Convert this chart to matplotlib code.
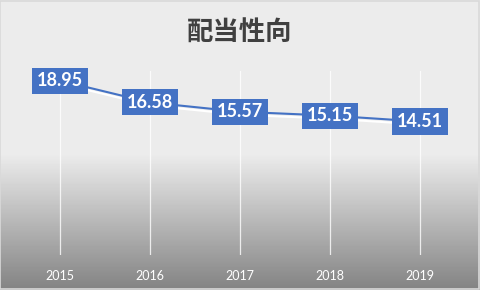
import numpy as np
import matplotlib
matplotlib.use("Agg")
import matplotlib.pyplot as plt
import matplotlib.patheffects as pe

years = ["2015", "2016", "2017", "2018", "2019"]
payout = [18.95, 16.58, 15.57, 15.15, 14.51]

blue = "#4472C4"

fig = plt.figure(figsize=(4.8, 2.9), dpi=100)

# background gradient: flat light gray on top, darker toward the bottom
bg = fig.add_axes([0, 0, 1, 1], zorder=0)
rows = np.linspace(0, 1, 290)
top, bottom = 236, 131
shade = np.where(rows < 0.53, top, top - (top - bottom) * (rows - 0.53) / 0.47)
img = np.repeat(shade[:, None], 10, axis=1) / 255.0
bg.imshow(img, cmap="gray", vmin=0, vmax=1, aspect="auto", extent=[0, 1, 0, 1])
bg.add_patch(plt.Rectangle((0.001, 0.002), 0.997, 0.995, fill=False,
                           edgecolor="#d9d9d9", lw=1.2, transform=bg.transAxes))
bg.set_axis_off()

ax = fig.add_axes([15 / 480, (290 - 255) / 290, 450 / 480, 184 / 290], zorder=1)
ax.patch.set_alpha(0)
x = np.arange(len(years))
ax.set_xlim(-0.5, len(years) - 0.5)
ax.set_ylim(0, 20)

for xi in x:
    ax.axvline(xi, color="white", lw=0.9, alpha=0.8, zorder=1)

ax.plot(x, payout, color=blue, lw=1.5, zorder=3,
        path_effects=[pe.SimpleLineShadow(offset=(0.8, -2.2), shadow_color="white", alpha=1),
                      pe.Normal()])

for xi, v in zip(x, payout):
    ax.text(xi, v, f"{v:.2f}", ha="center", va="center", color="white",
            fontsize=13, fontweight="bold", family="Lato", zorder=5,
            bbox=dict(boxstyle="square,pad=0.25", fc=blue, ec="none"))

ax.set_xticks(x)
ax.set_xticklabels(years, color="white", fontsize=9, family="Lato")
ax.tick_params(axis="x", length=0, pad=11)
ax.set_yticks([])
for s in ax.spines.values():
    s.set_visible(False)

fig.text(0.5, 0.885, "配当性向", ha="center", va="center", fontsize=19,
         fontweight="bold", color="#404040", family=["Noto Sans CJK JP", "DejaVu Sans"])

fig.savefig("out.png", dpi=100)
